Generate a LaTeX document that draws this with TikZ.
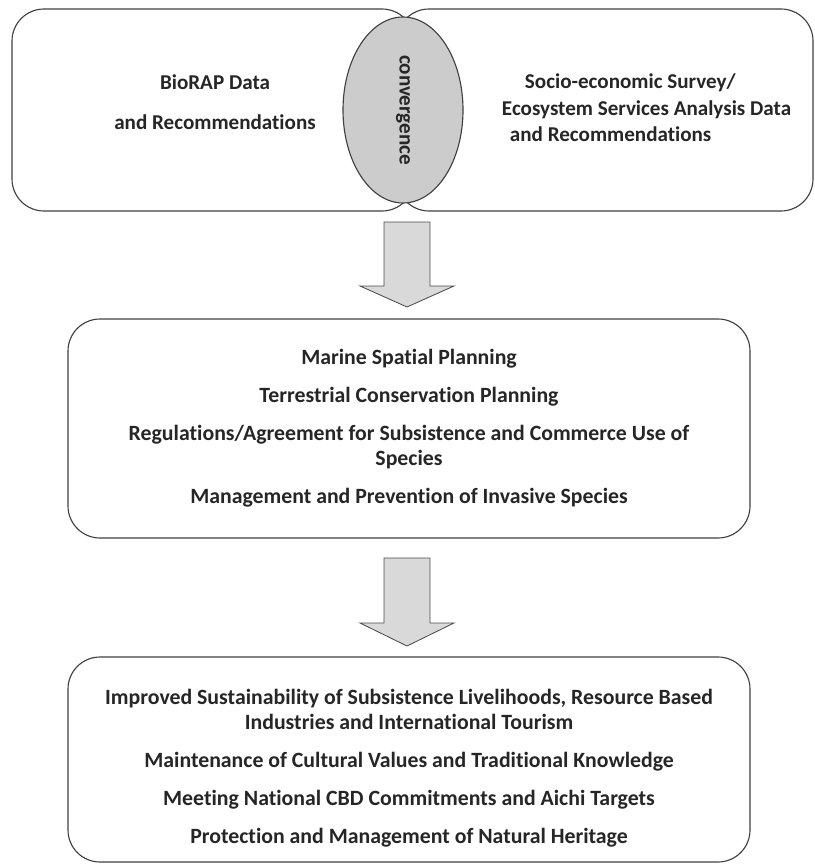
\documentclass[tikz,border=0pt]{standalone}
\usepackage{fontspec}
\setmainfont{Carlito}[Ligatures=NoCommon]
\usetikzlibrary{positioning}
\usetikzlibrary{shapes.geometric}

\begin{document}
\begin{tikzpicture}[
  panel/.style={draw=black!75,line width=0.8pt,rounded corners=0.8cm,fill=white},
  blockarrow/.style={draw=black!70,line width=0.6pt,fill=black!15},
  every node/.style={font=\fontsize{15.5}{18}\selectfont\bfseries,text=black!85}
]
\useasboundingbox (0,0) rectangle (20.35,-21.625);
% top row: two data sources and their convergence
\node[panel,minimum width=10.05cm,minimum height=5.05cm] (bio) at (5.325,-2.75) {};
\node[panel,minimum width=10.4cm,minimum height=5.05cm] (socio) at (15.125,-2.75) {};
\node[ellipse,draw=black!75,line width=0.8pt,fill=black!20,minimum width=3cm,minimum height=4.65cm,inner sep=0pt] (conv) at (10.075,-2.75) {};
\node[rotate=-90,font=\fontsize{15}{17}\selectfont\bfseries] (convtxt) at (conv.center) {convergence};
\node[align=center,font=\fontsize{15}{17}\selectfont\bfseries] (biotxt) at (5.375,-2.55) {BioRAP Data\\[11.5pt] and Recommendations};
\node[align=left,anchor=west,font=\fontsize{15}{18}\selectfont\bfseries] (sociotxt) at (12.425,-2.7) {\hspace*{0.575cm}Socio-economic Survey/\\[0.8pt] Ecosystem Services Analysis Data\\[0.8pt] \hspace*{0.2cm}and Recommendations};

\draw[blockarrow] (9.6,-5.55) -- (10.75,-5.55) -- (10.75,-7.15) -- (11.35,-7.15) -- (10.175,-7.675) -- (9.0,-7.15) -- (9.6,-7.15) -- cycle;

% planning tools
\node[panel,minimum width=17.05cm,minimum height=5.475cm,align=center] (plan) at (10.225,-10.7125) {Marine Spatial Planning\\[9pt] Terrestrial Conservation Planning\\[9pt] Regulations/Agreement for Subsistence and Commerce Use of\\ Species\\[9pt] Management and Prevention of Invasive Species};

\draw[blockarrow] (9.6,-13.95) -- (10.75,-13.95) -- (10.75,-15.575) -- (11.35,-15.575) -- (10.175,-16.15) -- (9.0,-15.575) -- (9.6,-15.575) -- cycle;

% outcomes
\node[panel,minimum width=17.05cm,minimum height=5.125cm] (outcome) at (10.225,-18.9875) {};
\node[align=center] (outtxt) at (10.225,-19.2) {Improved Sustainability of Subsistence Livelihoods, Resource Based\\ Industries and International Tourism\\[9pt] Maintenance of Cultural Values and Traditional Knowledge\\[9pt] Meeting National CBD Commitments and Aichi Targets\\[9pt] Protection and Management of Natural Heritage};

\end{tikzpicture}
\end{document}
